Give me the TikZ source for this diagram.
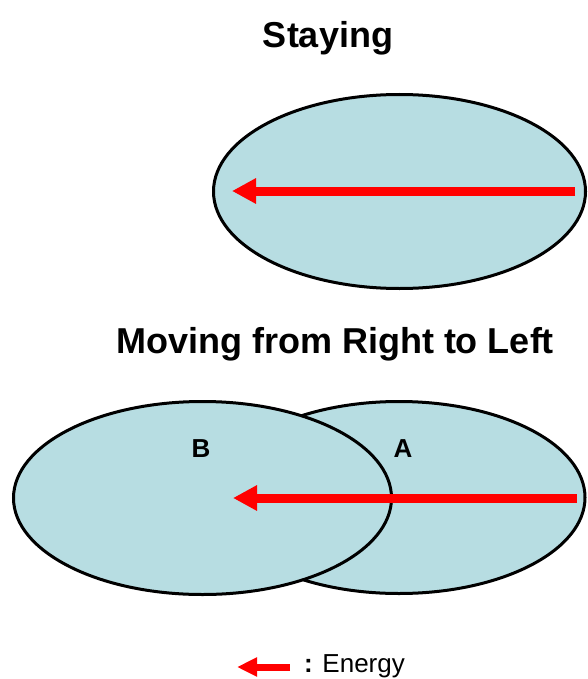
\documentclass[tikz,border=0pt]{standalone}
\usepackage{fontspec}
\setmainfont{Liberation Sans}
\usetikzlibrary{shapes.geometric,arrows.meta}
\definecolor{cellblue}{RGB}{183,221,226}
\definecolor{energyred}{RGB}{255,0,0}
\tikzset{
  cell/.style={ellipse, draw=black, fill=cellblue, line width=3pt, inner sep=0pt},
  energy/.style={draw=energyred, line width=9pt, -{Triangle[length=24pt,width=24pt]}},
  legendarrow/.style={draw=energyred, line width=7pt, -{Triangle[length=20pt,width=18pt]}},
  title/.style={font=\fontsize{36}{40}\selectfont\bfseries, anchor=base},
  cellname/.style={font=\fontsize{26}{30}\selectfont\bfseries},
}
\begin{document}
\begin{tikzpicture}[x=1pt,y=-1pt]
\useasboundingbox (0,0) rectangle (587,679);
\node[title] (t1) at (328,48) {Staying};
\node[cell, minimum width=372pt, minimum height=194pt] (stay) at (399.5,191.5) {};
\coordinate (s1) at (575,191);
\coordinate (s2) at (232,191);
\draw[energy] (s1) -- (s2);

\node[title] (t2) at (335,353) {Moving from Right to Left};
\node[cell, minimum width=372pt, minimum height=192pt] (A) at (399,497.5) {};
\node[cell, minimum width=378pt, minimum height=193pt] (B) at (202.5,498) {};
\node[cellname] (la) at (403,449) {A};
\node[cellname] (lb) at (201,449) {B};
\coordinate (m1) at (577,498);
\coordinate (m2) at (233,498);
\draw[energy] (m1) -- (m2);

\coordinate (e1) at (290,667);
\coordinate (e2) at (237,667);
\draw[legendarrow] (e1) -- (e2);
\node[font=\fontsize{26}{30}\selectfont, anchor=base west, inner sep=0pt] (leg) at (304,672) {\textbf{:} Energy};
\end{tikzpicture}
\end{document}
